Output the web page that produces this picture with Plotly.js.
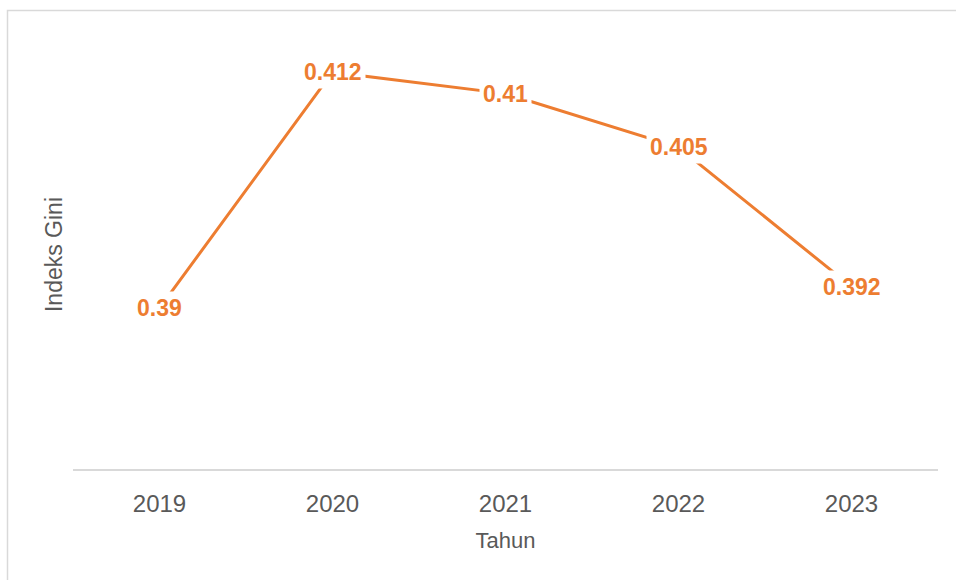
<!DOCTYPE html>
<html>
<head>
<meta charset="utf-8">
<script src="https://cdn.plot.ly/plotly-3.0.1.min.js"></script>
<style>html,body{margin:0;padding:0;background:#fff;}#chart{width:956px;height:580px;}</style>
</head>
<body>
<div id="chart"></div>
<script>
const years = ['2019', '2020', '2021', '2022', '2023'];
const gini = [0.39, 0.412, 0.41, 0.405, 0.392];
const giniLabels = ['0.39', '0.412', '0.41', '0.405', '0.392'];

const lineColor = '#ED7D31';
const textColor = '#595959';
const fontFam = '"Liberation Sans", Arial, sans-serif';

const trace = {
  x: years,
  y: gini,
  type: 'scatter',
  mode: 'lines',
  line: {color: lineColor, width: 3},
  hoverinfo: 'skip'
};

const annotations = years.map((yr, i) => ({
  x: i, y: gini[i], xref: 'x', yref: 'y',
  text: '<b>' + giniLabels[i] + '</b>',
  showarrow: false,
  bgcolor: '#ffffff',
  borderpad: 3,
  font: {family: fontFam, size: 23, color: lineColor}
}));

const layout = {
  width: 956, height: 580,
  margin: {l: 73, r: 18, t: 40, b: 111},
  paper_bgcolor: '#ffffff',
  plot_bgcolor: '#ffffff',
  showlegend: false,
  font: {family: fontFam, color: textColor},
  xaxis: {
    type: 'category',
    range: [-0.5, 4.5],
    showline: true, linecolor: '#d9d9d9', linewidth: 1.5,
    showgrid: false, zeroline: false, ticks: '',
    tickfont: {family: fontFam, size: 24, color: textColor},
    ticklabelstandoff: 13,
    title: {text: 'Tahun', font: {family: fontFam, size: 22, color: textColor}, standoff: 16},
    automargin: false,
    fixedrange: true
  },
  yaxis: {
    range: [0.375, 0.415],
    showline: false, showgrid: false, zeroline: false,
    showticklabels: false, ticks: '',
    title: {text: 'Indeks Gini', font: {family: fontFam, size: 23, color: textColor}, standoff: 2},
    automargin: false,
    fixedrange: true
  },
  annotations: annotations,
  shapes: [{
    type: 'rect', xref: 'paper', yref: 'paper',
    x0: (7.5 - 73) / 865, x1: 1.2,
    y0: -0.4, y1: (469 - 10.5) / 429,
    line: {color: '#d9d9d9', width: 1.5},
    fillcolor: 'rgba(0,0,0,0)',
    layer: 'below'
  }]
};

Plotly.newPlot('chart', [trace], layout, {displayModeBar: false, staticPlot: true});
</script>
</body>
</html>
